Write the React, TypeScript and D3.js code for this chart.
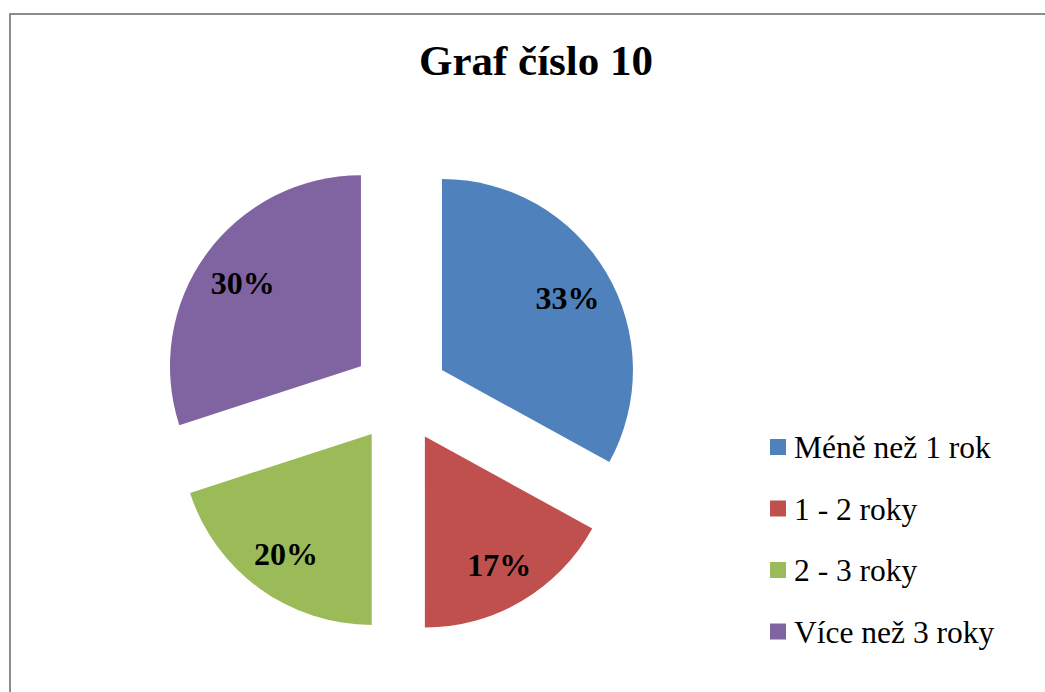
import { useEffect, useRef } from 'react';
import * as d3 from 'd3';

const categories = ['Méně než 1 rok', '1 - 2 roky', '2 - 3 roky', 'Více než 3 roky'];
const values = [33, 17, 20, 30];
const colors = ['#4f81bd', '#c0504d', '#9bbb59', '#8064a2'];
const chartTitle = 'Graf číslo 10';

export default function App() {
  const svgRef = useRef<SVGSVGElement>(null);

  useEffect(() => {
    if (!svgRef.current) return;
    const svg = d3.select(svgRef.current);
    svg.selectAll('*').remove();

    const width = 1045;
    const height = 692;
    const font = '"Liberation Serif", "Times New Roman", serif';

    svg.attr('width', width).attr('height', height);

    svg.append('rect').attr('width', width).attr('height', height).attr('fill', '#fff');

    // chart border
    svg
      .append('rect')
      .attr('x', 10)
      .attr('y', 14)
      .attr('width', width + 20)
      .attr('height', height + 20)
      .attr('fill', 'none')
      .attr('stroke', '#8c8c8c')
      .attr('stroke-width', 2);

    svg
      .append('text')
      .attr('x', 536)
      .attr('y', 75)
      .attr('text-anchor', 'middle')
      .attr('font-family', font)
      .attr('font-weight', 'bold')
      .attr('font-size', '43px')
      .attr('fill', '#000')
      .text(chartTitle);

    const radius = 191;
    const explode = 48.5;
    const g = svg.append('g').attr('transform', 'translate(400.2,394.7)');

    const pie = d3.pie<number>().sort(null).value((d) => d);
    const arcs = pie(values);
    const arc = d3.arc<d3.PieArcDatum<number>>().innerRadius(0).outerRadius(radius);

    const slices = g
      .selectAll('g.slice')
      .data(arcs)
      .enter()
      .append('g')
      .attr('class', 'slice')
      .attr('transform', (d) => {
        const mid = (d.startAngle + d.endAngle) / 2;
        return `translate(${Math.sin(mid) * explode},${-Math.cos(mid) * explode})`;
      });

    slices
      .append('path')
      .attr('d', arc)
      .attr('fill', (_, i) => colors[i]);

    const labelR = 146;
    slices
      .append('text')
      .attr('x', (d) => Math.sin((d.startAngle + d.endAngle) / 2) * labelR)
      .attr('y', (d) => -Math.cos((d.startAngle + d.endAngle) / 2) * labelR)
      .attr('dy', '0.42em')
      .attr('text-anchor', 'middle')
      .attr('font-family', font)
      .attr('font-weight', 'bold')
      .attr('font-size', '32px')
      .attr('fill', '#000')
      .text((d) => `${d.data}%`);

    // legend
    const legend = svg
      .selectAll('g.legend')
      .data(categories)
      .enter()
      .append('g')
      .attr('class', 'legend')
      .attr('transform', (_, i) => `translate(770,${447 + i * 61.5})`);

    legend
      .append('rect')
      .attr('x', 0)
      .attr('y', -8)
      .attr('width', 16)
      .attr('height', 16)
      .attr('fill', (_, i) => colors[i]);

    legend
      .append('text')
      .attr('x', 24)
      .attr('y', 0)
      .attr('dy', '0.35em')
      .attr('font-family', font)
      .attr('font-size', '31.5px')
      .attr('fill', '#000')
      .text((d) => d);
  }, []);

  return (
    <svg
      ref={svgRef}
      style={{ position: 'absolute', left: 0, top: 0, display: 'block' }}
    />
  );
}
